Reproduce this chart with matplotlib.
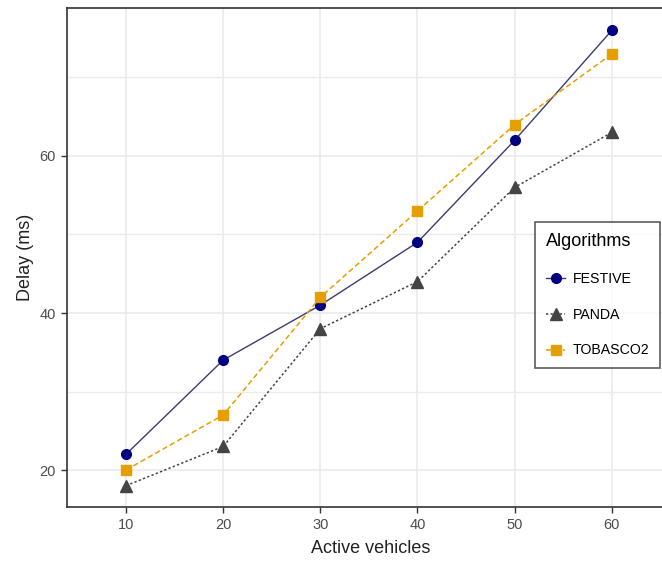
import matplotlib
matplotlib.use('Agg')
import matplotlib.pyplot as plt
from matplotlib.ticker import MultipleLocator

plt.rcParams['font.family'] = ['Liberation Sans Narrow', 'Liberation Sans', 'DejaVu Sans']

vehicles = [10, 20, 30, 40, 50, 60]
festive = [22, 34, 41, 49, 62, 76]
panda = [18, 23, 38, 44, 56, 63]
tobasco2 = [20, 27, 42, 53, 64, 73]

fig = plt.figure(figsize=(6.62, 5.72), dpi=100)
ax = fig.add_axes([67/662, 65/572, 608/662, 499/572])

ax.plot(vehicles, festive, color='#3c3c6e', lw=1.0, ls='-', marker='o',
        markersize=7, markerfacecolor='#000080', markeredgecolor='#000080',
        label='FESTIVE', zorder=3)
ax.plot(vehicles, panda, color='#444444', lw=1.1, ls=(0, (1.5, 1.5)), marker='^',
        markersize=8, markerfacecolor='#444444', markeredgecolor='#444444',
        label='PANDA', zorder=3)
ax.plot(vehicles, tobasco2, color='#E69F00', lw=1.1, ls=(0, (3.5, 2)), marker='s',
        markersize=7.5, markerfacecolor='#E69F00', markeredgecolor='#E69F00',
        label='TOBASCO2', zorder=3)

ax.set_xlim(3.93, 66.5)
ax.set_ylim(15.29, 78.85)
ax.set_xticks(vehicles)
ax.set_yticks([20, 40, 60])
ax.yaxis.set_minor_locator(MultipleLocator(20, offset=10))
ax.grid(which='major', color='#ebebeb', lw=1.2)
ax.grid(which='minor', axis='y', color='#ebebeb', lw=1.0)
ax.set_axisbelow(True)
ax.tick_params(which='minor', length=0)
ax.tick_params(which='major', length=4, width=1, color='#333333',
               labelsize=10.5, labelcolor='#4d4d4d', pad=4)
for s in ax.spines.values():
    s.set_color('#333333')
    s.set_linewidth(1.2)

ax.set_xlabel('Active vehicles', fontsize=13, color='#222222', labelpad=6)
ax.set_ylabel('Delay (ms)', fontsize=13, color='#222222', labelpad=4)

leg = fig.legend(loc='upper left', bbox_to_anchor=(535/662, 1 - 222/572),
                 borderaxespad=0,
                 title='Algorithms', fontsize=10.2, title_fontsize=13,
                 frameon=True, fancybox=False, edgecolor='#333333',
                 borderpad=0.75, labelspacing=1.55, handlelength=1.4,
                 handletextpad=0.5)
leg.get_frame().set_linewidth(1.2)
leg._legend_box.align = 'left'

fig.savefig('out.png', dpi=100)
